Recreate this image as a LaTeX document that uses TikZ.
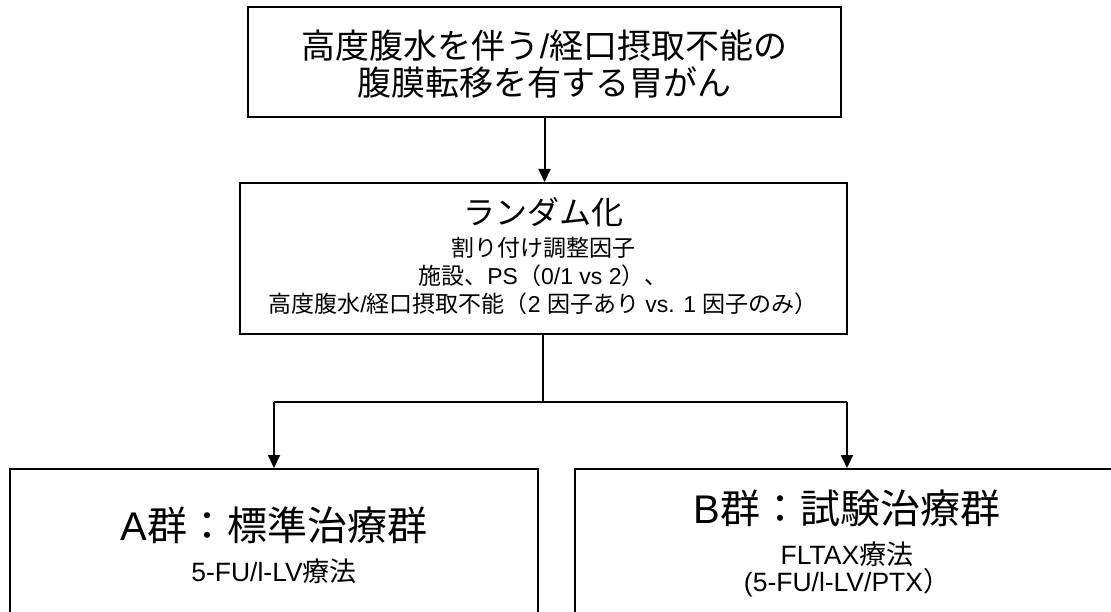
\documentclass[tikz,border=0pt]{standalone}
\usepackage{fontspec}
\setmainfont{Noto Sans CJK JP}
\newfontfamily\lat{Liberation Sans}
\usetikzlibrary{arrows.meta,calc}
\tikzset{
  box/.style={draw=black, line width=2pt, fill=white, inner sep=0pt, anchor=north west},
  txt/.style={inner sep=0pt, anchor=center, text=black},
  topf/.style={txt, font=\fontsize{34}{37}\selectfont},
  bigf/.style={txt, font=\fontsize{32}{36}\selectfont},
  smallf/.style={txt, font=\fontsize{23}{26}\selectfont},
  titlef/.style={txt, font=\fontsize{40}{44}\selectfont},
  subf/.style={txt, font=\fontsize{27}{30}\selectfont},
}
\tikzset{
  conn/.style={line width=2pt, draw=black},
  arr/.style={conn, -{Triangle[length=13pt,width=12pt]}},
}
\newcommand\LatBig[1]{{\lat\fontsize{26.5}{30}\selectfont #1}}
\newcommand\LatSm[1]{{\lat\fontsize{23}{26}\selectfont #1}}
\begin{document}
\begin{tikzpicture}[x=1pt,y=-1pt]
\useasboundingbox (0,0) rectangle (1111,612);
\clip (0,0) rectangle (1111,612);
% boxes
\node[box, minimum width=593pt, minimum height=110pt] (top) at (247,6) {};
\node[box, minimum width=607pt, minimum height=151pt] (mid) at (238.5,182) {};
\node[box, minimum width=528pt, minimum height=176pt] (A) at (9,468) {};
\node[box, minimum width=544pt, minimum height=168pt] (B) at (574,468) {};
% texts
\node[topf] (t1) at (top.north |- 0,46) {高度腹水を伴う{\lat /}経口摂取不能の};
\node[topf] (t2) at (top.north |- 0,83) {腹膜転移を有する胃がん};
\node[bigf] (m1) at (mid.north |- 0,212) {ランダム化};
\node[smallf] (m2) at (mid.north |- 0,248) {割り付け調整因子};
\node[smallf] (m3) at (mid.north |- 0,276) {施設、\LatSm{PS}（\LatSm{0/1 vs 2}）、};
\node[smallf] (m4) at (mid.north |- 0,304) {高度腹水\LatSm{/}経口摂取不能（\LatSm{2 }因子あり\LatSm{ vs. 1 }因子のみ）};
\node[titlef] (a1) at (A.north |- 0,525) {{\lat A}群：標準治療群};
\node[subf] (a2) at (A.north |- 0,571) {\LatBig{5-FU/l-LV}療法};
\node[titlef] (b1) at (B.north |- 0,508) {{\lat B}群：試験治療群};
\node[subf] (b2) at (B.north |- 0,554) {\LatBig{FLTAX}療法};
\node[subf] (b3) at (B.north |- 0,583) {\LatBig{(5-FU/l-LV/PTX}）};
% connectors
\coordinate (j) at ($(mid.south)+(0,67)$);
\draw[arr] (top.south) -- (top.south |- mid.north);
\draw[conn] (mid.south) -- (j);
\draw[conn] (A.north |- j) -- (B.north |- j);
\draw[arr] (A.north |- j) -- (A.north);
\draw[arr] (B.north |- j) -- (B.north);
\end{tikzpicture}
\end{document}
